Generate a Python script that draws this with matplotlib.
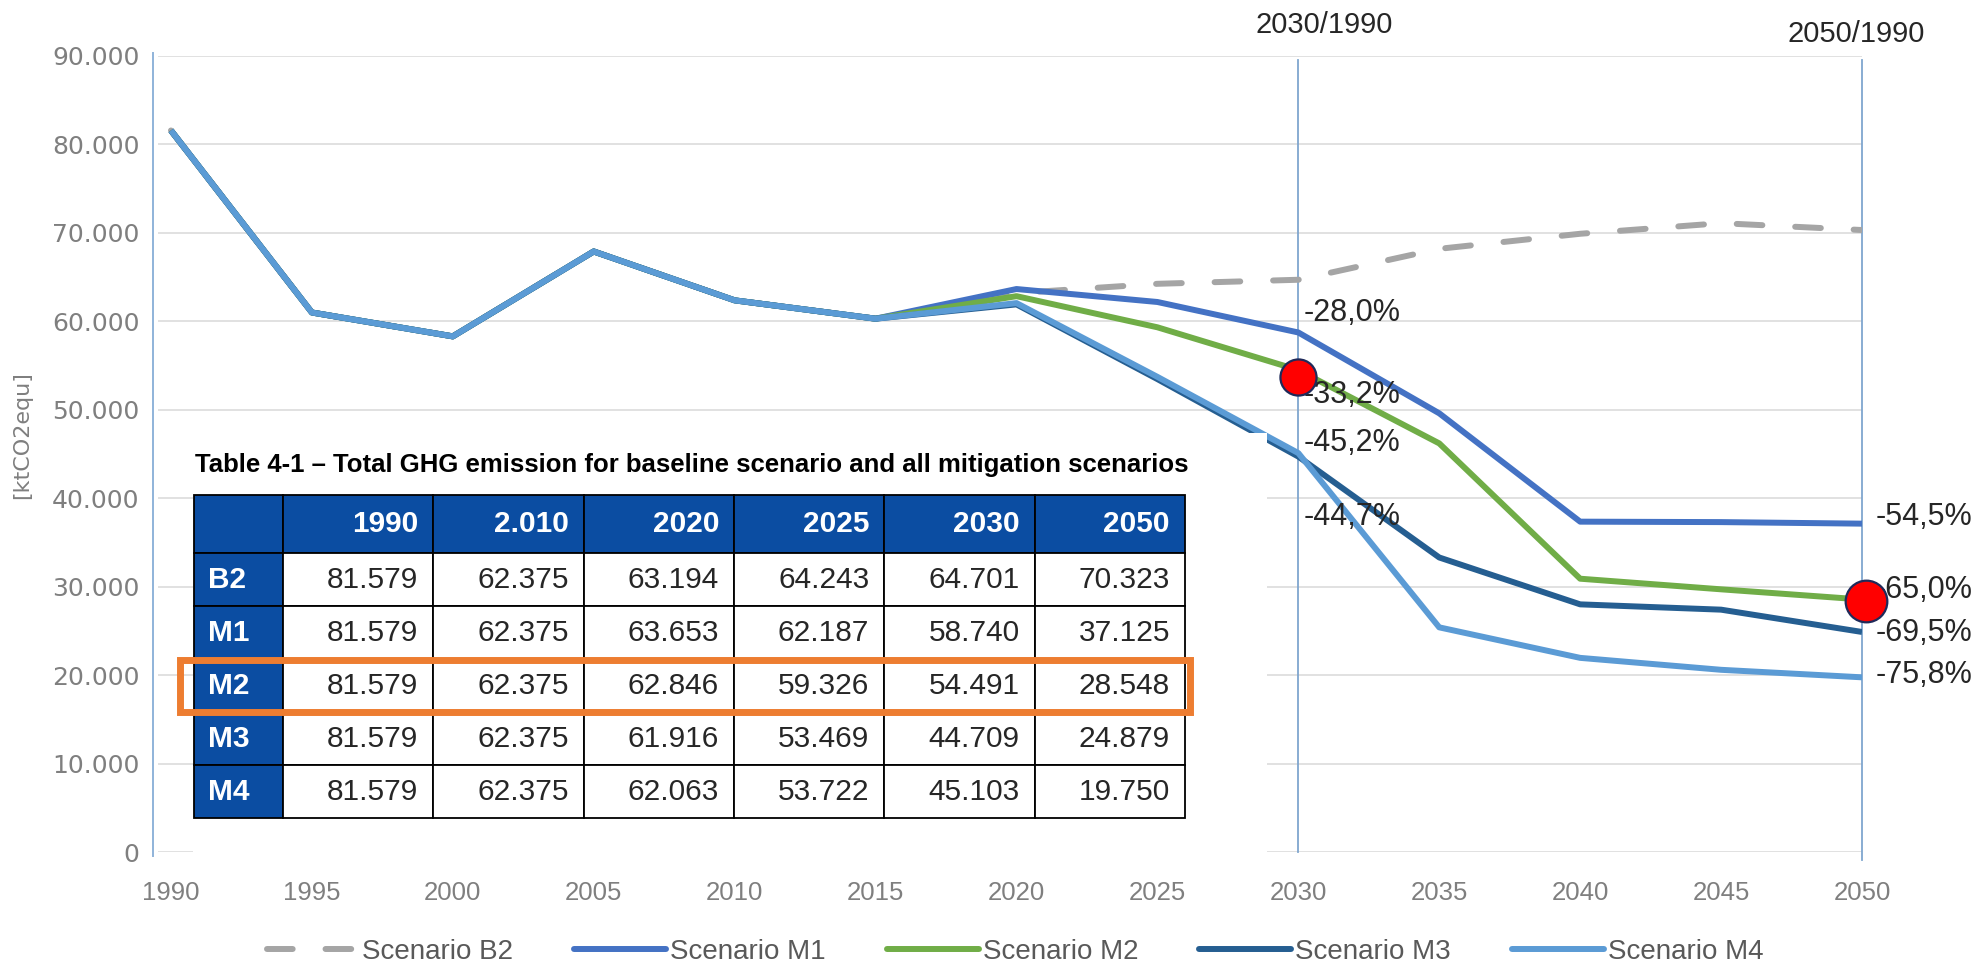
import numpy as np
import matplotlib.pyplot as plt
from matplotlib import font_manager
from matplotlib.patches import Rectangle
from matplotlib.lines import Line2D

#chart data (table values copied)
years = [1990, 1995, 2000, 2005, 2010, 2015, 2020, 2025, 2030, 2035, 2040, 2045, 2050]
hist = [81579, 61000, 58300, 67900, 62375, 60300]  #1990-2015, same for every scenario
b2 = hist + [63194, 64243, 64701, 68200, 69900, 71100, 70323]
m1 = hist + [63653, 62187, 58740, 49600, 37350, 37300, 37125]
m2 = hist + [62846, 59326, 54491, 46200, 30900, 29700, 28548]
m3 = hist + [61916, 53469, 44709, 33300, 28000, 27400, 24879]
m4 = hist + [62063, 53722, 45103, 25400, 21950, 20600, 19750]

series_names = ["Scenario B2", "Scenario M1", "Scenario M2", "Scenario M3", "Scenario M4"]
series_colors = ["#A5A5A5", "#4472C4", "#70AD47", "#255E91", "#5B9BD5"]

#table 4-1
tab_title = "Table 4-1 \u2013 Total GHG emission for baseline scenario and all mitigation scenarios"
tab_cols = ["1990", "2.010", "2020", "2025", "2030", "2050"]
tab_rows = ["B2", "M1", "M2", "M3", "M4"]
tab_b2 = [81579, 62375, 63194, 64243, 64701, 70323]
tab_m1 = [81579, 62375, 63653, 62187, 58740, 37125]
tab_m2 = [81579, 62375, 62846, 59326, 54491, 28548]
tab_m3 = [81579, 62375, 61916, 53469, 44709, 24879]
tab_m4 = [81579, 62375, 62063, 53722, 45103, 19750]

yticks = [0, 10000, 20000, 30000, 40000, 50000, 60000, 70000, 80000, 90000]

W, H = 1986, 972

names = {f.name for f in font_manager.fontManager.ttflist}
narrow = "Liberation Sans Narrow" if "Liberation Sans Narrow" in names else "Liberation Sans"
plt.rcParams["font.family"] = ["Liberation Sans", "DejaVu Sans"]


def fx(px):
    return px / W


def fy(py):
    return 1 - py / H


def dot_fmt(v):
    return f"{v:,.0f}".replace(",", ".")


def pct(v, base):
    return f"{(v / base - 1) * 100:.1f}%".replace(".", ",")


fig = plt.figure(figsize=(W / 100, H / 100), dpi=100)
ax = fig.add_axes([fx(158), fy(852), fx(1862) - fx(158), fy(56) - fy(852)])
ax.set_xlim(1989.54, 2050)
ax.set_ylim(0, 90000)
for s in ax.spines.values():
    s.set_visible(False)

#gridlines
for v in yticks:
    ax.axhline(v, color="#D9D9D9", lw=1.1, zorder=1)

#vertical marker lines
ax.plot([years[0] - 0.65] * 2, [-400, 90300], color="#8FB3D9", lw=1.4, clip_on=False, zorder=2)
ax.plot([2030, 2030], [0, 89500], color="#7FA6CF", lw=1.3, clip_on=False, zorder=2)
ax.plot([2050, 2050], [-900, 89500], color="#7FA6CF", lw=1.3, clip_on=False, zorder=2)

#lines
all_series = [b2, m1, m2, m3, m4]
for i, (vals, c) in enumerate(zip(all_series, series_colors)):
    if i == 0:
        ax.plot(years, vals, color=c, lw=4.3, dashes=(4.3, 5.5), dash_capstyle="round", zorder=3)
    else:
        ax.plot(years, vals, color=c, lw=4.3, solid_capstyle="butt", solid_joinstyle="round", zorder=3 + i)

#red markers on M2
ax.plot([2030], [m2[8] - 800], "o", ms=26, mfc="#FF0000", mec="#1F2A5A", mew=1.6, zorder=10, clip_on=False)
ax.plot([2050.15], [m2[-1] - 200], "o", ms=30, mfc="#FF0000", mec="#1F2A5A", mew=1.6, zorder=10, clip_on=False)

#percentage labels vs 1990
base = m1[0]
lab30_y = [60900, 51700, 46200, 37900]
lab50_y = [37900, 29600, 24800, 20000]
for vals, ly in zip(all_series[1:], lab30_y):
    ax.text(2030.2, ly, pct(vals[8], base), fontsize=22, color="#262626", va="center", ha="left", zorder=9)
for vals, ly in zip(all_series[1:], lab50_y):
    ax.text(2050.5, ly, pct(vals[-1], base), fontsize=22, color="#262626", va="center", ha="left",
            zorder=9, clip_on=False)

fig.text(fx(1324), fy(25), "2030/1990", fontsize=21, color="#262626", ha="center", va="center")
fig.text(fx(1856), fy(34), "2050/1990", fontsize=21, color="#262626", ha="center", va="center")

#axes ticks
ax.set_xticks(years)
ax.set_xticklabels([str(y) for y in years], fontsize=18.5, color="#7F7F7F")
ax.set_yticks(yticks)
ax.set_yticklabels([dot_fmt(v) for v in yticks], fontsize=18, color="#7F7F7F", family="DejaVu Sans")
ax.tick_params(axis="x", length=0, pad=21)
ax.tick_params(axis="y", length=0, pad=13.5)
fig.text(fx(22), fy(435), "[ktCO2equ]", rotation=90, fontsize=16, color="#7F7F7F",
         family="DejaVu Sans", ha="center", va="center")

#white box behind table
fig.add_artist(Rectangle((fx(193), fy(862)), fx(1267) - fx(193), fy(433) - fy(862),
                         transform=fig.transFigure, fc="white", ec="none", zorder=1))

#table
tax = fig.add_axes([fx(194), fy(818), fx(1185) - fx(194), fy(495) - fy(818)], zorder=3)
tax.axis("off")
cell_text = [[""] + tab_cols]
for r, row in zip(tab_rows, [tab_b2, tab_m1, tab_m2, tab_m3, tab_m4]):
    cell_text.append([r] + [dot_fmt(v) for v in row])
cw = np.array([89] + [150] * 6, dtype=float)
tbl = tax.table(cellText=cell_text, bbox=[0, 0, 1, 1], colWidths=list(cw / cw.sum()), cellLoc="right")
tbl.auto_set_font_size(False)
blue = "#0B4DA2"
for (r, c), cell in tbl.get_celld().items():
    cell.set_edgecolor("black")
    cell.set_linewidth(1.3)
    cell.set_height(58 if r == 0 else 53)
    txt = cell.get_text()
    txt.set_fontfamily(narrow)
    txt.set_fontsize(21.5)
    if r == 0 or c == 0:
        cell.set_facecolor(blue)
        txt.set_color("white")
        txt.set_fontweight("bold")
    else:
        cell.set_facecolor("white")
        txt.set_color("#262626")
    if c == 0:
        txt.set_horizontalalignment("left")
        cell.PAD = 0.16

title = fig.text(fx(195), fy(465), tab_title, fontsize=22, fontweight="bold", family=narrow,
                 color="black", ha="left", va="center", zorder=5)
fig.canvas.draw()
tw = title.get_window_extent().width
title.set_fontsize(22 * 995 / tw)

#orange highlight of M2 row
fig.add_artist(Rectangle((fx(180), fy(712)), fx(1190) - fx(180), fy(660) - fy(712),
                         transform=fig.transFigure, fc="none", ec="#ED7D31", lw=5, zorder=6))

#legend
handles = [Line2D([], [], color=series_colors[0], lw=4.3, dashes=(4.3, 5.5), dash_capstyle="round")]
handles += [Line2D([], [], color=c, lw=4.3, solid_capstyle="round") for c in series_colors[1:]]
fig.legend(handles, series_names, loc="center", bbox_to_anchor=(fx(1015), fy(952)), ncol=5,
           frameon=False, handlelength=3.3, handletextpad=0.15, columnspacing=2.2,
           fontsize=20, labelcolor="#595959")

fig.savefig("out.png", dpi=100)
